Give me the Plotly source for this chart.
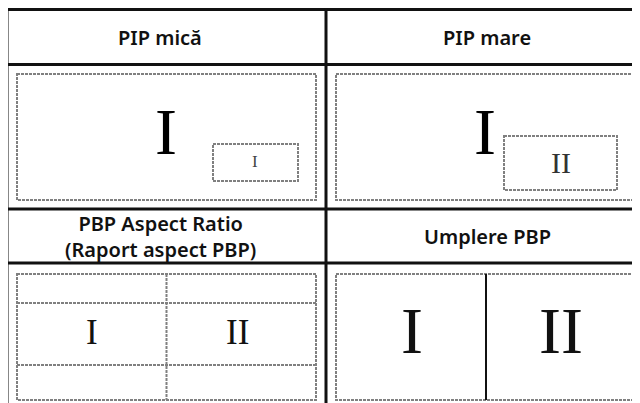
import plotly.graph_objects as go

# ---- content ----
headers = ["PIP mică", "PIP mare", "PBP Aspect Ratio<br>(Raport aspect PBP)", "Umplere PBP"]
header_x = [160, 487, 160, 487]
header_y = [37, 37, 236, 236]

glyph_text = ["I", "I", "I", "II", "I", "II", "I", "II"]
glyph_x = [166, 255, 485, 561, 92, 237, 412, 561]
glyph_y = [131, 161, 131, 162, 332, 332, 330, 330]
glyph_size = [66, 17, 66, 30, 35, 35, 66, 66]
glyph_color = ["#000000", "#444444", "#000000", "#333333", "#111111", "#111111", "#111111", "#111111"]

W, H = 640, 403
OFF = 8  # page body margin compensation
BLACK = "#111111"
GRAY = "#808080"
DASH = "3px,1px"

fig = go.Figure()
fig.add_trace(go.Scatter(x=[0, W], y=[0, H], mode="markers", marker=dict(opacity=0),
                         hoverinfo="skip", showlegend=False))

shapes = []
def line(x0, y0, x1, y1, color=BLACK, width=3, dash="solid"):
    shapes.append(dict(type="line", x0=x0, y0=y0, x1=x1, y1=y1, xref="x", yref="y",
                       line=dict(color=color, width=width, dash=dash)))

def rect(x0, y0, x1, y1, color=GRAY, width=2, dash=DASH):
    shapes.append(dict(type="rect", x0=x0, y0=y0, x1=x1, y1=y1, xref="x", yref="y",
                       line=dict(color=color, width=width, dash=dash), fillcolor="rgba(0,0,0,0)"))

# table grid
line(5.5, 9.5, 660, 9.5)
line(7, 8, 7, 420)
line(326, 8, 326, 420)
line(5.5, 64.5, 660, 64.5)
line(5.5, 209, 660, 209)
line(5.5, 263, 660, 263)

# inner dashed frames
rect(17, 74, 316, 200)
rect(336, 74, 636, 200)
rect(17, 274, 316, 400)
rect(336, 274, 636, 400)
# PIP windows
rect(213, 144, 298, 181)
rect(504, 136, 617, 190)
# PBP aspect ratio dividers
line(166.5, 274, 166.5, 400, color=GRAY, width=2, dash=DASH)
line(17, 303, 316, 303, color=GRAY, width=2, dash=DASH)
line(17, 365, 316, 365, color=GRAY, width=2, dash=DASH)
# PBP fill divider
line(486, 274, 486, 400, color=BLACK, width=2)

annotations = []
for t, x, y in zip(headers, header_x, header_y):
    annotations.append(dict(text=t, x=x, y=y, xref="x", yref="y", showarrow=False,
                            xanchor="center", yanchor="middle",
                            font=dict(family="Noto Sans", size=20, color="#111111", weight=600)))
for t, x, y, s, c in zip(glyph_text, glyph_x, glyph_y, glyph_size, glyph_color):
    annotations.append(dict(text=t, x=x, y=y, xref="x", yref="y", showarrow=False,
                            xanchor="center", yanchor="middle",
                            font=dict(family="Liberation Serif", size=s, color=c)))

fig.update_layout(
    width=W, height=H, margin=dict(l=0, r=0, t=0, b=0),
    paper_bgcolor="white", plot_bgcolor="white",
    xaxis=dict(range=[OFF, W + OFF], visible=False, fixedrange=True),
    yaxis=dict(range=[H + OFF, OFF], visible=False, fixedrange=True),
    shapes=shapes, annotations=annotations, showlegend=False,
)
fig.write_html("out.html")
